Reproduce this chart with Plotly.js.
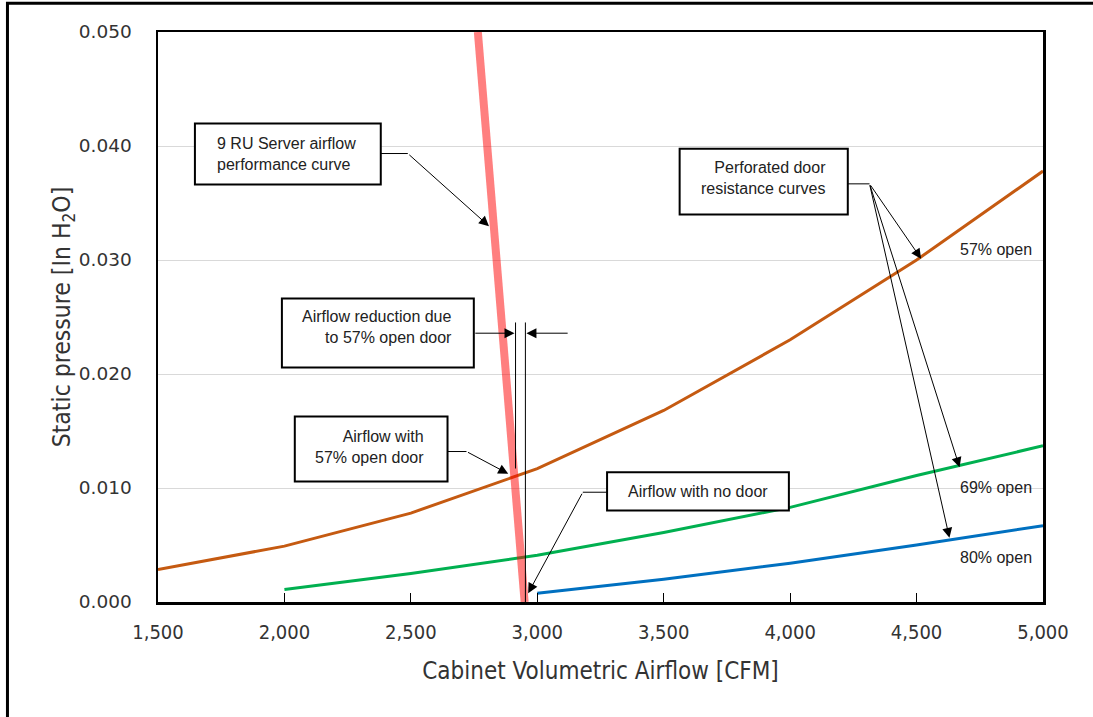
<!DOCTYPE html>
<html>
<head>
<meta charset="utf-8">
<script src="https://cdn.plot.ly/plotly-3.0.1.min.js"></script>
<style>html,body{margin:0;padding:0;background:#fff;}#chart{width:1093px;height:717px;}</style>
</head>
<body>
<div id="chart"></div>
<script>
// ---- data ----
const airflowX = [1500, 2000, 2500, 3000, 3500, 4000, 4500, 5000];
const open57Y = [0.00285, 0.0049, 0.0078, 0.0117, 0.0168, 0.0230, 0.0300, 0.0378];
const open69X = [2000, 2500, 3000, 3500, 4000, 4500, 5000];
const open69Y = [0.0011, 0.0025, 0.0041, 0.0061, 0.0083, 0.0111, 0.0137];
const open80X = [3000, 3500, 4000, 4500, 5000];
const open80Y = [0.00077, 0.0020, 0.0034, 0.0050, 0.0067];
const serverX = [2765, 2950];
const serverY = [0.050, 0.000];
const xTickVals = [1500, 2000, 2500, 3000, 3500, 4000, 4500, 5000];
const xTickText = ['1,500', '2,000', '2,500', '3,000', '3,500', '4,000', '4,500', '5,000'];
const yTickVals = [0, 0.01, 0.02, 0.03, 0.04, 0.05];
const yTickText = ['0.000', '0.010', '0.020', '0.030', '0.040', '0.050'];
const curveLabels = ['57% open', '69% open', '80% open'];

const traces = [
  {x: airflowX, y: open57Y, mode: 'lines', line: {color: '#C55A11', width: 3}, name: curveLabels[0]},
  {x: open69X, y: open69Y, mode: 'lines', line: {color: '#00B050', width: 3}, name: curveLabels[1]},
  {x: open80X, y: open80Y, mode: 'lines', line: {color: '#0070C0', width: 3}, name: curveLabels[2]},
  {x: serverX, y: serverY, mode: 'lines', line: {color: 'rgba(255,0,0,0.5)', width: 8}, name: '9 RU Server'}
];

const boxFont = {family: 'Liberation Sans, Arial, sans-serif', size: 16, color: '#222'};
const blk = {color: '#000', width: 1};

function rect(x0, x1, y0, y1) {
  return {type: 'rect', xref: 'x', yref: 'y', x0: x0, x1: x1, y0: y0, y1: y1,
          line: {color: '#000', width: 2}, fillcolor: '#fff', layer: 'above'};
}
function seg(x0, y0, x1, y1) {
  return {type: 'line', xref: 'x', yref: 'y', x0: x0, y0: y0, x1: x1, y1: y1, line: blk, layer: 'above'};
}
function arrow(ax, ay, x, y) {
  return {x: x, y: y, ax: ax, ay: ay, xref: 'x', yref: 'y', axref: 'x', ayref: 'y', text: '',
          showarrow: true, arrowhead: 2, arrowsize: 2, arrowwidth: 1, arrowcolor: '#000', standoff: 0, startstandoff: 0};
}
function label(x, y, text, xanchor, align) {
  return {x: x, y: y, xref: 'x', yref: 'y', text: text, showarrow: false, xanchor: xanchor, yanchor: 'middle',
          align: align, font: boxFont};
}

const shapes = [
  // outer frame
  {type: 'rect', xref: 'paper', yref: 'paper', x0: -0.1701, x1: 1.07, y0: -0.23, y1: 1.0504,
   line: {color: '#000', width: 3}, fillcolor: 'rgba(0,0,0,0)', layer: 'below'},
  rect(1646, 2381, 0.03662, 0.04197),
  seg(2381, 0.03934, 2488, 0.03934),
  rect(1990, 2749, 0.02057, 0.02662),
  seg(2914, 0.02452, 2914, 0.01171),
  seg(2953, 0.02452, 2953, 0.0),
  rect(2041, 2645, 0.01057, 0.01627),
  seg(2645, 0.0132, 2720, 0.0132),
  rect(3276, 3995, 0.00803, 0.01139),
  seg(3276, 0.00963, 3180, 0.00963),
  rect(3563, 4228, 0.03399, 0.03975),
  seg(4228, 0.03668, 4314, 0.03668)
];

const annotations = [
  label(1725, 0.03934, '9 RU Server airflow<br>performance curve', 'left', 'left'),
  arrow(2488, 0.03934, 2809, 0.03297),
  label(2670, 0.02408, 'Airflow reduction due<br>to 57% open door', 'right', 'right'),
  arrow(2749, 0.02358, 2910, 0.02358),
  arrow(3126, 0.02358, 2957, 0.02358),
  label(2558, 0.01364, 'Airflow with<br>57% open door', 'right', 'right'),
  arrow(2720, 0.0132, 2885, 0.01125),
  label(3634, 0.00969, 'Airflow with no door', 'center', 'center'),
  arrow(3180, 0.00963, 2964, 0.00077),
  label(4149, 0.03715, 'Perforated door<br>resistance curves', 'right', 'right'),
  arrow(4314, 0.03668, 4518, 0.03011),
  arrow(4314, 0.03668, 4670, 0.01182),
  arrow(4314, 0.03668, 4630, 0.00563),
  label(4966, 0.0309, curveLabels[0], 'right', 'right'),
  label(4966, 0.01007, curveLabels[1], 'right', 'right'),
  label(4966, 0.00393, curveLabels[2], 'right', 'right')
];

const layout = {
  width: 1093, height: 717,
  margin: {l: 158, r: 50, t: 32, b: 115, pad: 0},
  paper_bgcolor: '#fff', plot_bgcolor: '#fff',
  showlegend: false, hovermode: false,
  xaxis: {
    range: [1500, 5000], tickvals: xTickVals, ticktext: xTickText,
    ticks: 'inside', ticklen: 9, tickwidth: 1, tickcolor: '#000',
    showline: true, linecolor: '#000', linewidth: 2.5, mirror: true,
    showgrid: false, zeroline: false,
    tickfont: {family: 'DejaVu Sans Condensed, DejaVu Sans, sans-serif', size: 20, color: '#333'},
    ticklabelstandoff: 10,
    title: {text: 'Cabinet Volumetric Airflow [CFM]', standoff: 20,
            font: {family: 'DejaVu Sans Condensed, DejaVu Sans, sans-serif', size: 24, color: '#333'}}
  },
  yaxis: {
    range: [0, 0.05], tickvals: yTickVals, ticktext: yTickText,
    ticks: '', showline: true, linecolor: '#000', linewidth: 2.5, mirror: true,
    showgrid: true, gridcolor: '#d9d9d9', gridwidth: 1, zeroline: false,
    tickfont: {family: 'DejaVu Sans, sans-serif', size: 18.5, color: '#333'},
    ticklabelstandoff: 20,
    title: {text: 'Static pressure [In H<sub>2</sub>O]', standoff: 2,
            font: {family: 'DejaVu Sans Condensed, DejaVu Sans, sans-serif', size: 24.5, color: '#333'}}
  },
  shapes: shapes,
  annotations: annotations
};

Plotly.newPlot('chart', traces, layout, {staticPlot: true, displayModeBar: false});
</script>
</body>
</html>
